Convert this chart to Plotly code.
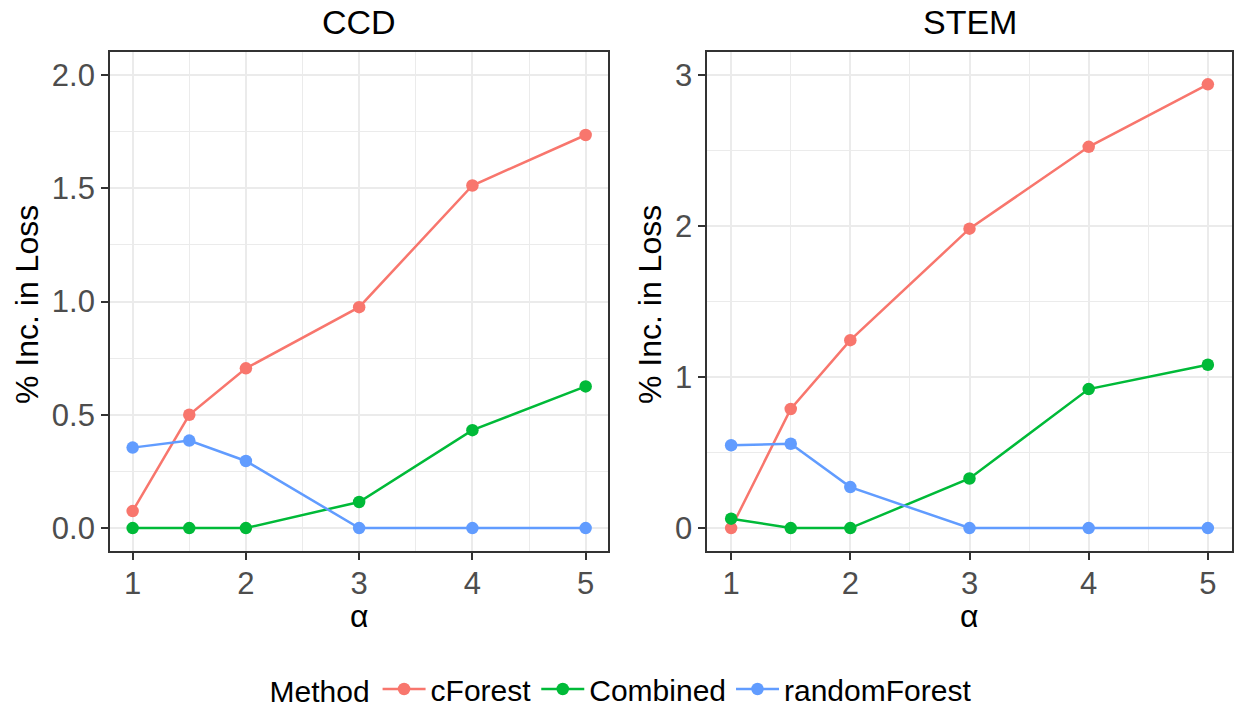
import plotly.graph_objects as go

W, H = 1236, 715

alpha = [1, 1.5, 2, 3, 4, 5]
methods = ["cForest", "Combined", "randomForest"]
colors = {"cForest": "#F8766D", "Combined": "#00BA38", "randomForest": "#619CFF"}

ccd_cforest = [0.075, 0.50, 0.705, 0.975, 1.512, 1.735]
ccd_combined = [0.0, 0.0, 0.0, 0.115, 0.432, 0.625]
ccd_randomforest = [0.355, 0.386, 0.296, 0.0, 0.0, 0.0]

stem_cforest = [0.0, 0.788, 1.244, 1.982, 2.524, 2.938]
stem_combined = [0.062, 0.0, 0.0, 0.328, 0.920, 1.081]
stem_randomforest = [0.548, 0.558, 0.271, 0.0, 0.0, 0.0]

panels = [
    ("CCD", {"cForest": ccd_cforest, "Combined": ccd_combined, "randomForest": ccd_randomforest}),
    ("STEM", {"cForest": stem_cforest, "Combined": stem_combined, "randomForest": stem_randomforest}),
]

# pixel boxes of panels
boxes = [(110, 608.3), (707.3, 1231.7)]
top, bottom = 52.3, 550.7

FONT = "Liberation Sans, Arial, sans-serif"

fig = go.Figure()

for i, (name, data) in enumerate(panels):
    xa = "x" if i == 0 else "x2"
    ya = "y" if i == 0 else "y2"
    for m in methods:
        fig.add_trace(go.Scatter(
            x=alpha, y=data[m], mode="lines+markers", name=m,
            line=dict(color=colors[m], width=2.5),
            marker=dict(color=colors[m], size=12.5),
            xaxis=xa, yaxis=ya, showlegend=(i == 0), legendgroup=m,
        ))

grid = "#EBEBEB"
border = "#333333"
tickfont = dict(family=FONT, size=31, color="#4D4D4D")

def xaxis_cfg(x0, x1, anchor):
    return dict(
        domain=[x0 / W, x1 / W], anchor=anchor, range=[0.8, 5.2],
        tickmode="linear", tick0=1, dtick=1,
        showgrid=True, gridcolor=grid, gridwidth=1.6,
        minor=dict(dtick=0.5, tick0=0.5, showgrid=True, gridcolor=grid, gridwidth=0.9, ticks=""),
        showline=True, linecolor=border, linewidth=1.8, mirror=True,
        ticks="outside", ticklen=7, tickwidth=1.6, tickcolor=border,
        ticklabelstandoff=-3,
        tickfont=tickfont, zeroline=False, fixedrange=True,
    )

def yaxis_cfg(rng, dt, mdt, anchor, fmt):
    return dict(
        domain=[1 - bottom / H, 1 - top / H], anchor=anchor, range=rng,
        tickmode="linear", tick0=0, dtick=dt, tickformat=fmt,
        showgrid=True, gridcolor=grid, gridwidth=1.6,
        minor=dict(dtick=mdt, tick0=0, showgrid=True, gridcolor=grid, gridwidth=0.9, ticks=""),
        showline=True, linecolor=border, linewidth=1.8, mirror=True,
        ticks="outside", ticklen=7, tickwidth=1.6, tickcolor=border,
        tickfont=tickfont, zeroline=False, fixedrange=True,
    )

fig.update_layout(
    width=W, height=H,
    margin=dict(l=0, r=0, t=0, b=0),
    paper_bgcolor="white", plot_bgcolor="white",
    xaxis=xaxis_cfg(*boxes[0], "y"),
    yaxis=yaxis_cfg([-0.1, 2.1], 0.5, 0.25, "x", ".1f"),
    xaxis2=xaxis_cfg(*boxes[1], "y2"),
    yaxis2=yaxis_cfg([-0.15, 3.15], 1, 0.5, "x2", "d"),
    legend=dict(
        orientation="h", x=622 / W, xanchor="center",
        y=0, yanchor="bottom",
        font=dict(family=FONT, size=30, color="black"),
        title=dict(text="Method", side="left",
                   font=dict(family=FONT, size=30, color="black")),
        itemwidth=43, tracegroupgap=0, bgcolor="rgba(0,0,0,0)",
    ),
    showlegend=True,
)

titlefont = dict(family=FONT, size=34, color="black")
for i, (name, _) in enumerate(panels):
    x0, x1 = boxes[i]
    cx = (x0 + x1) / 2 / W
    fig.add_annotation(text=name, x=cx, y=1 - 21.5 / H, xref="paper", yref="paper",
                       showarrow=False, font=titlefont, xanchor="center", yanchor="middle")
    fig.add_annotation(text="α", x=cx, y=1 - 616 / H, xref="paper", yref="paper",
                       showarrow=False, font=dict(family=FONT, size=32, color="black"),
                       xanchor="center", yanchor="middle")
    ycx = [27, 650][i]
    fig.add_annotation(text="% Inc. in Loss", x=ycx / W, y=1 - 305 / H,
                       xref="paper", yref="paper", showarrow=False, textangle=-90,
                       font=dict(family=FONT, size=32, color="black"),
                       xanchor="center", yanchor="middle")

fig.write_html("out.html")
